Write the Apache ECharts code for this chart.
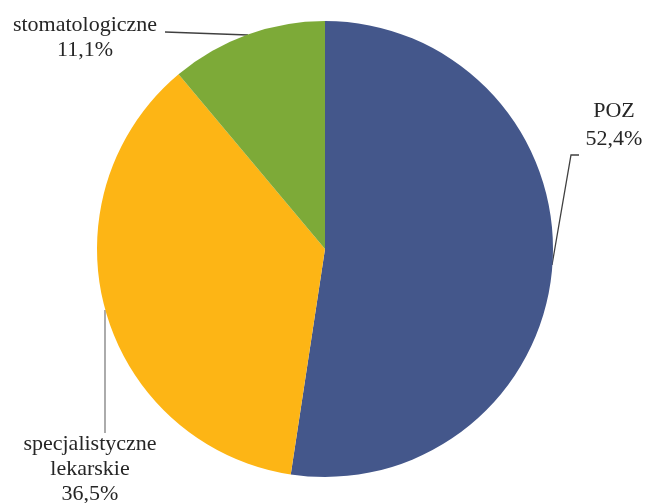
<!DOCTYPE html>
<html><head><meta charset="utf-8">
<script src="https://cdn.jsdelivr.net/npm/echarts@6/dist/echarts.min.js"></script>
<style>html,body{margin:0;padding:0;background:#fff}#c{width:646px;height:503px}</style>
</head><body><div id="c"></div>
<script>
const categories = ['POZ', 'specjalistyczne\nlekarskie', 'stomatologiczne'];
const values = [52.4, 36.5, 11.1];
const colors = ['#44578B', '#FDB515', '#7DAA38'];

// label placement (text centre) and leader lines, per slice
const labelPlace = [
  { x: 614, y: 125, lh: 28, line: [[552, 265], [571, 155], [579, 155]], lc: '#404040' },
  { x: 90, y: 469, lh: 25, line: [[105, 310], [105, 433], [105, 433]], lc: '#7f7f7f' },
  { x: 85, y: 38, lh: 25, line: [[248, 35], [165, 32], [165, 32]], lc: '#404040' }
];
const FONT = "'Liberation Serif', 'DejaVu Serif', serif";

const chart = echarts.init(document.getElementById('c'), null, { renderer: 'canvas' });
chart.setOption({
  animation: false,
  backgroundColor: '#fff',
  series: [{
    type: 'pie',
    center: [325, 249],
    radius: 228,
    startAngle: 90,
    clockwise: true,
    data: categories.map((n, i) => ({
      name: n, value: values[i],
      itemStyle: { color: colors[i] },
      label: { lineHeight: labelPlace[i].lh, fontFamily: FONT, fontSize: 22 },
      labelLine: { lineStyle: { color: labelPlace[i].lc } }
    })),
    label: {
      show: true,
      position: 'outside',
      fontFamily: FONT,
      fontSize: 22,
      color: '#262626',
      align: 'center',
      overflow: 'none',
      formatter: p => p.name + '\n' + String(p.value).replace('.', ',') + '%'
    },
    labelLine: { show: true, length: 10, length2: 10, smooth: false, lineStyle: { width: 1.3 } },
    labelLayout: p => {
      const L = labelPlace[p.dataIndex];
      return { x: L.x, y: L.y, align: 'center', verticalAlign: 'middle', labelLinePoints: L.line };
    },
    itemStyle: { borderWidth: 0 },
    emphasis: { disabled: true }
  }]
});
</script></body></html>
